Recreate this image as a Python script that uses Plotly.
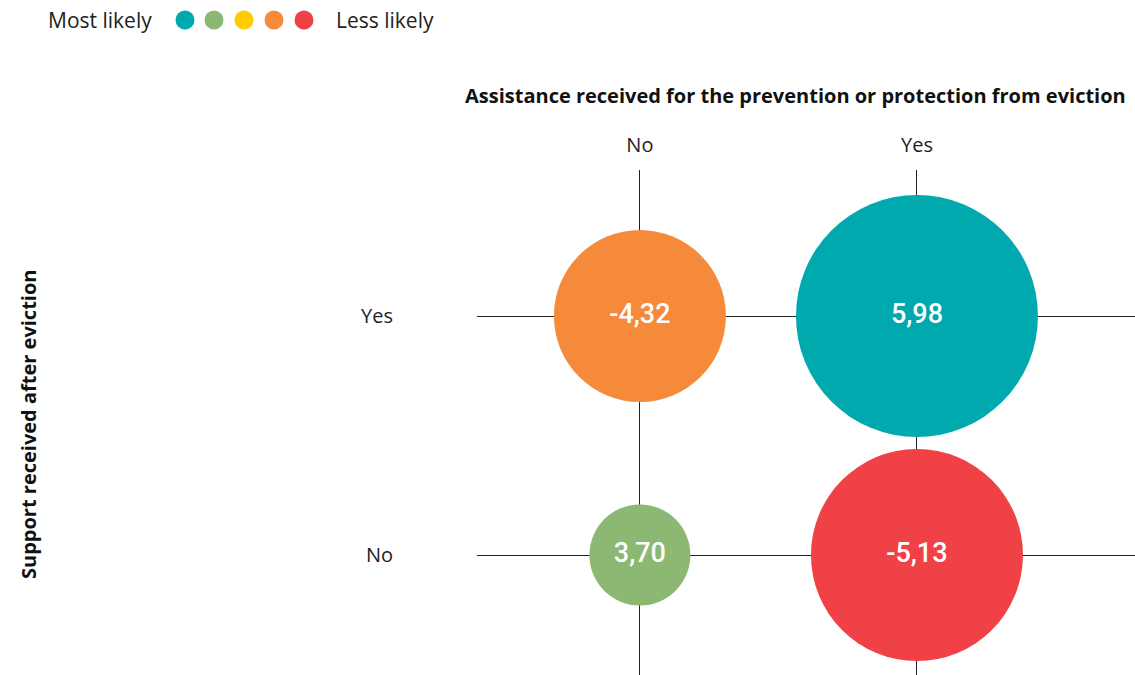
import plotly.graph_objects as go

# Data
prevention = ["No", "Yes", "No", "Yes"]          # x: assistance for prevention/protection
support = ["Yes", "Yes", "No", "No"]              # y: support received after eviction
values = [-4.32, 5.98, 3.70, -5.13]
labels = ["-4,32", "5,98", "3,70", "-5,13"]
x_categories = ["No", "Yes"]
y_categories = ["No", "Yes"]
legend_left = "Most likely"
legend_right = "Less likely"

# Styles
bubble_colors = ["#F58A3A", "#00A9AD", "#8CB874", "#EF4146"]
bubble_diam_px = [172, 242, 101, 212]
scale_colors = ["#00A9AD", "#8CB874", "#FFCC00", "#F58A3A", "#EF4146"]

W, H = 1135, 675
L, R, T, B = 477, 0, 170, 0
pw, ph = W - L - R, H - T - B

fig = go.Figure()
fig.add_trace(go.Scatter(
    x=prevention, y=support, mode="markers+text",
    text=labels, textposition="middle center",
    textfont=dict(family="Roboto", size=27, color="white", weight=500),
    marker=dict(size=bubble_diam_px, sizemode="diameter", color=bubble_colors,
                opacity=1, line=dict(width=0)),
    hoverinfo="skip", showlegend=False, cliponaxis=False,
))

def px_x(px):
    return (px - L) / pw

def px_y(py):
    return (H - B - py) / ph

# Legend swatches
shapes = []
dot_x = [185, 214, 244, 274, 304]
for cx, c in zip(dot_x, scale_colors):
    r = 9.5
    shapes.append(dict(type="circle", xref="paper", yref="paper",
                       x0=px_x(cx - r), x1=px_x(cx + r),
                       y0=px_y(20 + r), y1=px_y(20 - r),
                       fillcolor=c, line=dict(width=0), layer="above"))

annotations = [
    dict(text=legend_left, xref="paper", yref="paper", x=px_x(154), y=px_y(20),
         xanchor="right", yanchor="middle", showarrow=False,
         font=dict(family="Open Sans", size=21, color="#222")),
    dict(text=legend_right, xref="paper", yref="paper", x=px_x(334), y=px_y(20),
         xanchor="left", yanchor="middle", showarrow=False,
         font=dict(family="Open Sans", size=21, color="#222")),
    dict(text="<b>Assistance received for the prevention or protection from eviction</b>",
         xref="paper", yref="paper", x=px_x(795), y=px_y(95),
         xanchor="center", yanchor="middle", showarrow=False,
         font=dict(family="Open Sans", size=20, color="#111")),
    dict(text="<b>Support received after eviction</b>", textangle=-90,
         xref="paper", yref="paper", x=px_x(28), y=px_y(425),
         xanchor="center", yanchor="middle", showarrow=False,
         font=dict(family="Open Sans", size=20, color="#111")),
]

fig.update_layout(
    width=W, height=H,
    margin=dict(l=L, r=R, t=T, b=B, pad=0),
    paper_bgcolor="white", plot_bgcolor="white",
    shapes=shapes, annotations=annotations,
    xaxis=dict(type="category", categoryorder="array", categoryarray=x_categories,
               range=[-0.588, 1.787], side="top", showgrid=True, gridcolor="#222",
               gridwidth=1, zeroline=False, showline=False, ticks="",
               ticklabelstandoff=13,
               tickfont=dict(family="Open Sans", size=20, color="#222")),
    yaxis=dict(type="category", categoryorder="array", categoryarray=y_categories,
               range=[-0.502, 1.611], showgrid=True, gridcolor="#222",
               gridwidth=1, zeroline=False, showline=False, ticks="",
               ticklabelstandoff=83,
               tickfont=dict(family="Open Sans", size=20, color="#222")),
)

fig.write_html("out.html", config={"displayModeBar": False},
               post_script="document.body.style.margin='0';document.body.style.padding='0';")
